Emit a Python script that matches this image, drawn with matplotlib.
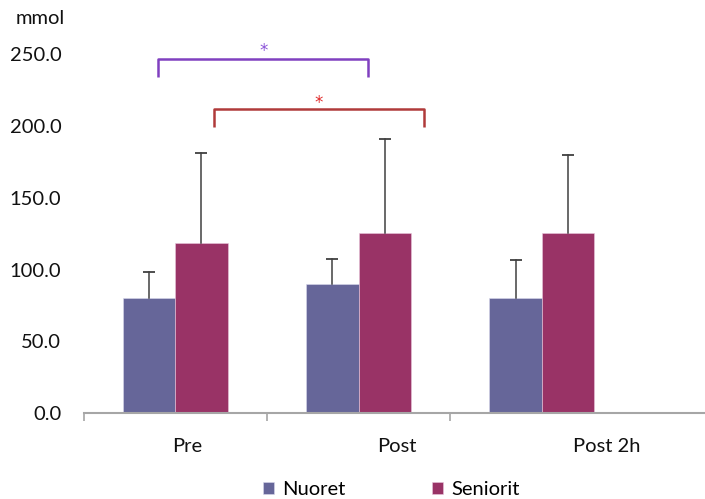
import matplotlib
matplotlib.use("Agg")
import matplotlib.pyplot as plt
import numpy as np
from matplotlib.patches import Patch

plt.rcParams['font.family'] = ['Lato', 'DejaVu Sans']

categories = ["Pre", "Post", "Post 2h"]
series_names = ["Nuoret", "Seniorit"]
nuoret = [80.5, 89.8, 80.1]
nuoret_sd = [18.1, 17.9, 26.9]
seniorit = [118.4, 125.8, 125.8]
seniorit_sd = [63.1, 65.2, 54.2]
yticks = [0, 50, 100, 150, 200, 250]

c_n = "#666699"
c_s = "#993366"
txt = "#111111"
fs = 14.5

fig = plt.figure(figsize=(7.05, 4.99), dpi=100)
ax = fig.add_axes([83.5/705, (499-413.3)/499, (705-83.5)/705, 280*1.436/499])

x = np.arange(len(categories))
w = 0.2865
xn = x - w/2
xs = x + w/2
ax.bar(xn, nuoret, w, color=c_n, edgecolor="#d8d8ec", linewidth=0.4, zorder=2)
ax.bar(xs, seniorit, w, color=c_s, edgecolor="#e8c8dc", linewidth=0.4, zorder=2)

# upper-only error bars
for xp, v, sd in list(zip(xn, nuoret, nuoret_sd)) + list(zip(xs, seniorit, seniorit_sd)):
    ax.plot([xp, xp], [v, v + sd], color="#404040", lw=1.1, zorder=3)
    ax.plot([xp], [v + sd], marker="_", ms=8, mew=1.3, color="#404040", zorder=3)

ax.set_xlim(-0.5, 2.89)
ax.set_ylim(0, 280)
for s in ["top", "right", "left"]:
    ax.spines[s].set_visible(False)
ax.spines["bottom"].set_color("#a6a6a6")
ax.spines["bottom"].set_linewidth(1.5)

ax.set_yticks(yticks)
ax.set_yticklabels([f"{v:.1f}" for v in yticks], fontsize=fs, color=txt)
ax.tick_params(axis="y", length=0, pad=16)

ax.set_xticks([-0.5, 0.5, 1.5])
ax.set_xticklabels([])
ax.tick_params(axis="x", length=6, width=1.2, color="#a6a6a6", direction="out")

label_x = [0.063, 1.21, 2.354]
for lx, lab in zip(label_x, categories):
    ax.text(lx, -23.3, lab, ha="center", va="center", fontsize=fs,
            color=txt, clip_on=False)

# significance brackets
def bracket(x0, x1, ylo, yhi, color, star_x, star_y, star_color):
    ax.plot([x0, x0, x1, x1], [ylo, yhi, yhi, ylo], color=color, lw=1.8,
            solid_joinstyle="round", solid_capstyle="butt", clip_on=False)
    ax.text(star_x, star_y, "*", ha="center", va="center", fontsize=12,
            color=star_color, family="DejaVu Sans")

bracket(-0.092, 1.053, 234.4, 246.7, "#8040c0", 0.484, 252.0, "#8a52d8")
bracket(0.213, 1.359, 199.2, 212.0, "#b03a3a", 0.781, 216.0, "#e02828")

fig.text(40/705, 1 - 19/499, "mmol", ha="center", va="center", fontsize=fs,
         color=txt)

handles = [Patch(facecolor=c_n, edgecolor="#d8d8ec", linewidth=0.4),
           Patch(facecolor=c_s, edgecolor="#e8c8dc", linewidth=0.4)]
fig.legend(handles, series_names, loc="center", bbox_to_anchor=(391/705, 9.7/499),
           ncol=2, frameon=False, fontsize=fs, handlelength=0.55,
           handleheight=0.55, handletextpad=0.4, columnspacing=4.3,
           borderpad=0, borderaxespad=0)

fig.savefig("out.png", dpi=100)
